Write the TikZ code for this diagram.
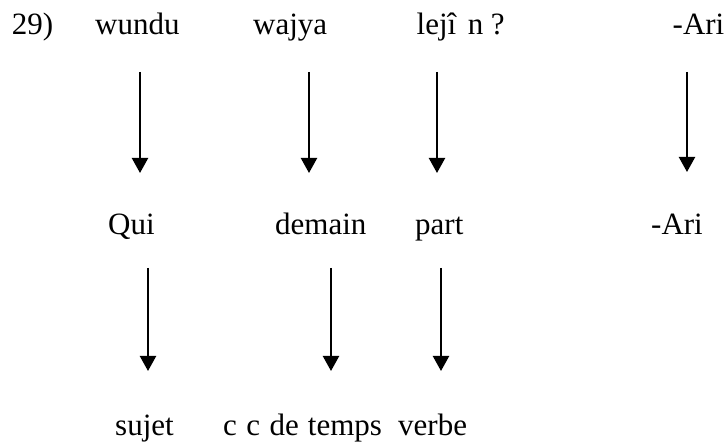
\documentclass[tikz,border=0pt]{standalone}
\usepackage{fontspec}
\setmainfont{Liberation Serif}
\usetikzlibrary{arrows.meta}
\begin{document}
\begin{tikzpicture}[x=1pt,y=-1pt,
  lbl/.style={anchor=base west,inner sep=0pt,font=\fontsize{31}{37}\selectfont},
  arr/.style={line width=2.2pt,-{Triangle[length=15pt,width=16pt]}}]
\useasboundingbox (0,0) rectangle (728,443);
% row 1
\node[lbl] (num) at (11.6,35) {29)};
\node[lbl] (w1) at (95,35) {wundu};
\node[lbl] (w2) at (253,35) {wajya};
\node[lbl] (w3) at (416.5,35) {lejî\hspace{11.5pt}n\hspace{7.5pt}?};
\node[lbl] (w4) at (672.5,35) {-Ari};
% row 2
\node[lbl] (q1) at (108,235) {Qui};
\node[lbl] (q2) at (275,235) {demain};
\node[lbl] (q3) at (415,235) {part};
\node[lbl] (q4) at (651,235) {-Ari};
% row 3
\node[lbl] (f1) at (115,435) {sujet};
\node[lbl] (f2) at (223,435) {c\hspace{9.5pt}c\hspace{9.5pt}de\hspace{9pt}temps};
\node[lbl] (f3) at (398,435) {verbe};
% arrows row 1
\coordinate (a1s) at (140,72);  \coordinate (a1e) at (140,173);
\coordinate (a2s) at (309,72);  \coordinate (a2e) at (309,173);
\coordinate (a3s) at (437,72);  \coordinate (a3e) at (437,173);
\coordinate (a4s) at (687,72);  \coordinate (a4e) at (687,172);
\draw[arr] (a1s) -- (a1e);
\draw[arr] (a2s) -- (a2e);
\draw[arr] (a3s) -- (a3e);
\draw[arr] (a4s) -- (a4e);
% arrows row 2
\coordinate (b1s) at (148,268); \coordinate (b1e) at (148,371);
\coordinate (b2s) at (331,268); \coordinate (b2e) at (331,371);
\coordinate (b3s) at (441,268); \coordinate (b3e) at (441,371);
\draw[arr] (b1s) -- (b1e);
\draw[arr] (b2s) -- (b2e);
\draw[arr] (b3s) -- (b3e);
\end{tikzpicture}
\end{document}
